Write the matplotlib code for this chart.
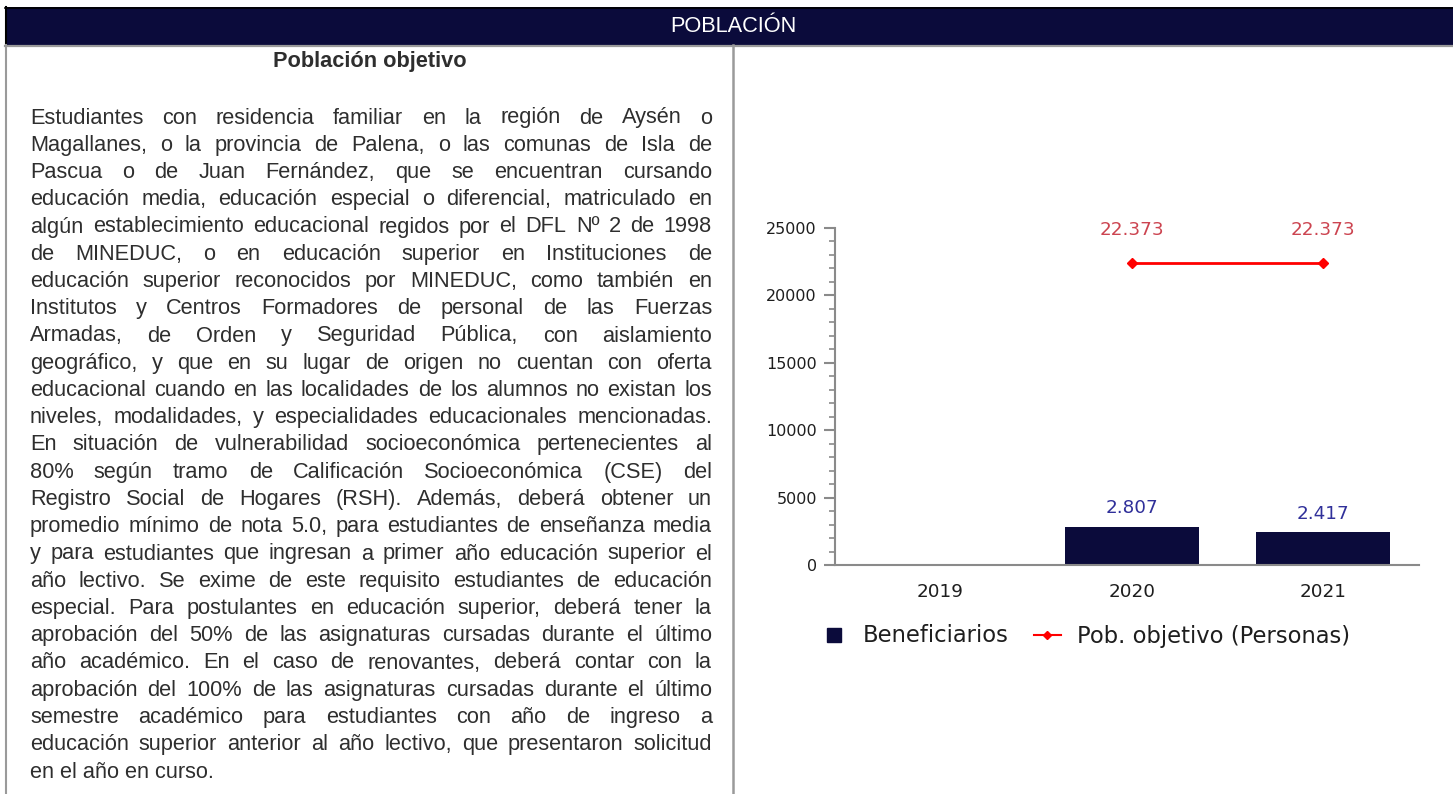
import numpy as np
import matplotlib.pyplot as plt
from matplotlib.patches import Rectangle
from matplotlib.lines import Line2D

W, H = 1453, 794

years = ['2019', '2020', '2021']
beneficiarios = [np.nan, 2807, 2417]
pob_objetivo = [np.nan, 22373, 22373]
y_ticks = [0, 5000, 10000, 15000, 20000, 25000]

header_title = 'POBLACIÓN'
panel_title = 'Población objetivo'
body_lines = [
    'Estudiantes con residencia familiar en la región de Aysén o',
    'Magallanes, o la provincia de Palena, o las comunas de Isla de',
    'Pascua o de Juan Fernández, que se encuentran cursando',
    'educación media, educación especial o diferencial, matriculado en',
    'algún establecimiento educacional regidos por el DFL Nº 2 de 1998',
    'de MINEDUC, o en educación superior en Instituciones de',
    'educación superior reconocidos por MINEDUC, como también en',
    'Institutos y Centros Formadores de personal de las Fuerzas',
    'Armadas, de Orden y Seguridad Pública, con aislamiento',
    'geográfico, y que en su lugar de origen no cuentan con oferta',
    'educacional cuando en las localidades de los alumnos no existan los',
    'niveles, modalidades, y especialidades educacionales mencionadas.',
    'En situación de vulnerabilidad socioeconómica pertenecientes al',
    '80% según tramo de Calificación Socioeconómica (CSE) del',
    'Registro Social de Hogares (RSH). Además, deberá obtener un',
    'promedio mínimo de nota 5.0, para estudiantes de enseñanza media',
    'y para estudiantes que ingresan a primer año educación superior el',
    'año lectivo. Se exime de este requisito estudiantes de educación',
    'especial. Para postulantes en educación superior, deberá tener la',
    'aprobación del 50% de las asignaturas cursadas durante el último',
    'año académico. En el caso de renovantes, deberá contar con la',
    'aprobación del 100% de las asignaturas cursadas durante el último',
    'semestre académico para estudiantes con año de ingreso a',
    'educación superior anterior al año lectivo, que presentaron solicitud',
    'en el año en curso.',
]

navy = '#0b0b3b'
text_color = '#2e2e2e'
html_font = 'Liberation Sans'
html_size = 15.7


def fx(x):
    return x / W


def fy(y):
    return 1 - y / H


def hline(fig, x0, x1, y, color, lw):
    fig.add_artist(Line2D([fx(x0), fx(x1)], [fy(y), fy(y)], transform=fig.transFigure,
                          color=color, linewidth=lw))


def vline(fig, x, y0, y1, color, lw):
    fig.add_artist(Line2D([fx(x), fx(x)], [fy(y0), fy(y1)], transform=fig.transFigure,
                          color=color, linewidth=lw))


fig = plt.figure(figsize=(W / 100, H / 100), dpi=100)
fig.patch.set_facecolor('white')

# header bar
fig.add_artist(Rectangle((fx(5), fy(45)), fx(W) - fx(5), fy(7) - fy(45),
                         transform=fig.transFigure, facecolor=navy, edgecolor='none'))
hline(fig, 5, W, 7.5, 'black', 1.2)
hline(fig, 5, W, 45.5, '#9a9a9a', 1.6)
vline(fig, 6, 7, 45, 'black', 1.5)
vline(fig, 6, 45, H, '#9a9a9a', 1.5)
vline(fig, 733, 45, H, '#9a9a9a', 1.8)

fig.text(fx(733), fy(27), header_title, color='white', family=html_font,
         fontsize=html_size, ha='center', va='center')
fig.text(fx(370), fy(61), panel_title, color=text_color, family=html_font,
         fontsize=html_size, fontweight='bold', ha='center', va='center')

# justified paragraph
renderer = fig.canvas.get_renderer()
left, right = 30, 712
line_step = 27.25
first_base = 123.5
for i, line in enumerate(body_lines):
    base = first_base + i * line_step
    words = line.split()
    widths = []
    for w in words:
        t = fig.text(0, 0, w, family=html_font, fontsize=html_size)
        widths.append(t.get_window_extent(renderer).width)
        t.remove()
    if i == len(body_lines) - 1 or len(words) < 2:
        fig.text(fx(left), fy(base), line, color=text_color, family=html_font,
                 fontsize=html_size, ha='left', va='baseline')
        continue
    gap = (right - left - sum(widths)) / (len(words) - 1)
    x = left
    for w, wd in zip(words, widths):
        fig.text(fx(x), fy(base), w, color=text_color, family=html_font,
                 fontsize=html_size, ha='left', va='baseline')
        x += wd + gap

# chart
ax = fig.add_axes([fx(835), fy(565), fx(1419) - fx(835), fy(228) - fy(565)])
xpos = np.arange(len(years))
ax.bar(xpos, np.nan_to_num(beneficiarios), width=0.7, color=navy, zorder=2)
ax.plot(xpos, pob_objetivo, color='#ff0000', linewidth=2, marker='D', markersize=5.5, zorder=3)

for x, v in zip(xpos, beneficiarios):
    if np.isnan(v):
        continue
    ax.annotate(f'{v:,.0f}'.replace(',', '.'), (x, v), xytext=(0, 13.5), textcoords='offset points',
                ha='center', va='center', color='#30309a', fontsize=13.2, annotation_clip=False)
for x, v in zip(xpos, pob_objetivo):
    if np.isnan(v):
        continue
    ax.annotate(f'{v:,.0f}'.replace(',', '.'), (x, v), xytext=(0, 24), textcoords='offset points',
                ha='center', va='center', color='#cc4450', fontsize=13.2, annotation_clip=False)

ax.set_xlim(-0.55, 2.5)
ax.set_ylim(0, 25000)
ax.set_yticks(y_ticks)
ax.set_yticks(np.arange(0, 25001, 1000), minor=True)
ax.set_xticks(xpos)
ax.set_xticklabels(years)
for s in ['top', 'right']:
    ax.spines[s].set_visible(False)
for s in ['left', 'bottom']:
    ax.spines[s].set_color('#8a8a8a')
    ax.spines[s].set_linewidth(1.5)
ax.tick_params(axis='y', which='major', length=8, width=1.5, color='#8a8a8a',
               labelsize=11.5, labelcolor='#1e1e1e', pad=5)
ax.tick_params(axis='y', which='minor', length=4.5, width=1.2, color='#8a8a8a')
ax.tick_params(axis='x', length=0, labelsize=13.2, labelcolor='#1e1e1e', pad=13)
ax.patch.set_alpha(0)

handles = [
    Line2D([], [], linestyle='none', marker='s', markersize=9.5, color=navy),
    Line2D([], [], color='#ff0000', linewidth=1.5, marker='D', markersize=4),
]
fig.legend(handles, ['Beneficiarios', 'Pob. objetivo (Personas)'], loc='center',
           bbox_to_anchor=(fx(1085), fy(636)), ncol=2, frameon=False, fontsize=16.3,
           handlelength=1.2, handletextpad=0.7, columnspacing=1.1, labelcolor='#1e1e1e')

fig.savefig('out.png', dpi=100)
